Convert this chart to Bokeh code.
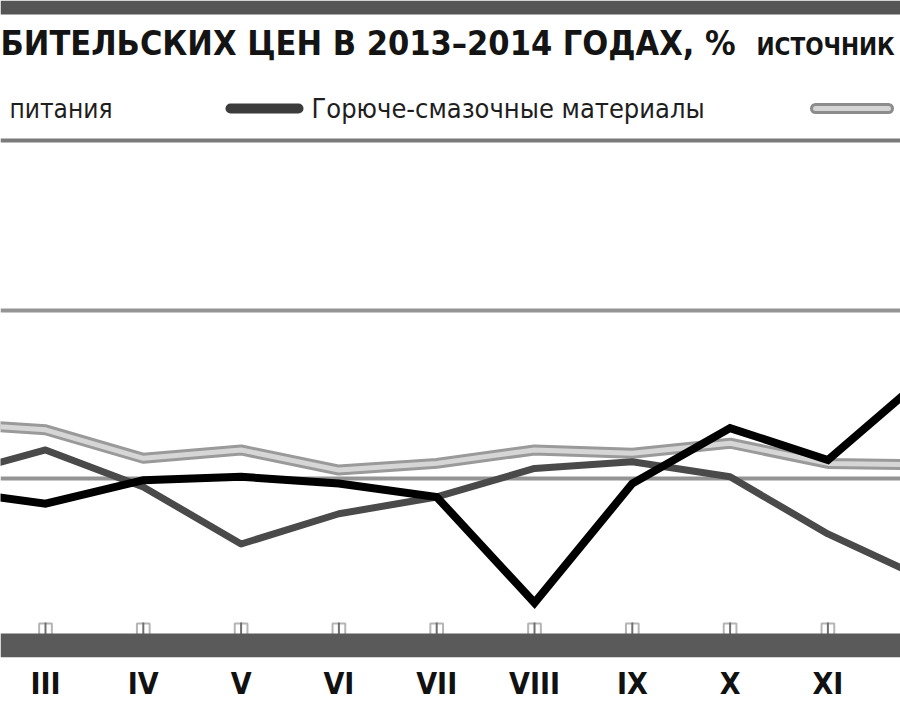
from bokeh.plotting import figure
from bokeh.models import Range1d, FixedTicker, BoxAnnotation
from bokeh.core.properties import value
from bokeh.embed import file_html
from bokeh.resources import INLINE

# ---- data (monthly consumer price index, % to previous month) ----
months = [2, 3, 4, 5, 6, 7, 8, 9, 10, 11, 12]
month_labels = ["II", "III", "IV", "V", "VI", "VII", "VIII", "IX", "X", "XI", "XII"]
food = [99.93, 99.85, 99.99, 100.01, 99.97, 99.89, 99.26, 99.97, 100.30, 100.11, 100.61]
fuel = [100.01, 100.17, 99.95, 99.61, 99.79, 99.89, 100.06, 100.10, 100.01, 99.67, 99.40]
other = [100.33, 100.29, 100.12, 100.17, 100.05, 100.09, 100.17, 100.15, 100.21, 100.09, 100.08]
grid_levels = [100, 101]

title_text = "БИТЕЛЬСКИХ ЦЕН В 2013–2014 ГОДАХ, %"
source_text = "ИСТОЧНИК"
legend_food = "питания"
legend_fuel = "Горюче-смазочные материалы"

# ---- layout helpers (picture pixel -> data) ----
def X(xw):
    return 3 + (xw - 45) / 97.8

def Y(yw):
    return 100 + (478 - yw) / 168

FONT_NAME = "'DejaVu Sans Condensed', 'Liberation Sans', sans-serif"
FONT = value(FONT_NAME)

p = figure(width=900, height=720, output_backend="svg", toolbar_location=None,
           x_range=Range1d(X(0), X(900)), y_range=Range1d(Y(657), Y(0)),
           min_border_left=0, min_border_right=0, min_border_top=0, min_border_bottom=63)
p.outline_line_color = None
p.background_fill_color = "white"
p.border_fill_color = "white"

# axes
p.yaxis.visible = False
p.xgrid.visible = False
p.ygrid.ticker = FixedTicker(ticks=grid_levels)
p.ygrid.grid_line_color = "#949494"
p.ygrid.grid_line_width = 4

xa = p.xaxis[0]
xa.ticker = FixedTicker(ticks=months)
xa.major_label_overrides = {m: lab for m, lab in zip(months, month_labels)}
xa.axis_line_color = None
xa.major_tick_line_color = None
xa.minor_tick_line_color = None
xa.major_label_standoff = 2
xa.major_label_text_font = FONT_NAME
xa.major_label_text_font_style = "bold"
xa.major_label_text_font_size = "30px"
xa.major_label_text_color = "#111111"

# decorative bands
p.add_layout(BoxAnnotation(left=X(0), right=X(900), bottom=Y(14), top=Y(0),
                           fill_color="#555555", fill_alpha=1, line_color=None))
p.add_layout(BoxAnnotation(left=X(0), right=X(900), bottom=Y(142), top=Y(138),
                           fill_color="#7a7a7a", fill_alpha=1, line_color=None))
p.add_layout(BoxAnnotation(left=X(0), right=X(900), bottom=Y(657), top=Y(633),
                           fill_color="#5a5a5a", fill_alpha=1, line_color=None))

# tick boxes above the axis band
p.rect(x=months, y=[Y(630)] * len(months), width=0.13, height=14 / 168,
       fill_color="white", fill_alpha=0.0, line_color="#b5b5b5", line_width=2)
p.segment(x0=months, x1=months, y0=[Y(622)] * len(months), y1=[Y(640)] * len(months),
          line_color="#6f6f6f", line_width=2)

# series
p.line(months, other, line_color="#9a9a9a", line_width=11, line_join="round")
p.line(months, other, line_color="#d6d6d6", line_width=5, line_join="round")
p.line(months, fuel, line_color="#4a4a4a", line_width=7, line_join="round")
p.line(months, food, line_color="#000000", line_width=8, line_join="miter")

# title
p.text(x=[X(0)], y=[Y(42)], text=[title_text], text_font=FONT, text_font_style="bold",
       text_font_size="34px", text_baseline="middle", text_align="left", text_color="#141414")
p.text(x=[X(756)], y=[Y(46)], text=[source_text], text_font=FONT, text_font_style="bold",
       text_font_size="24px", text_baseline="middle", text_align="left", text_color="#141414")

# legend (drawn manually, as in the cropped original)
p.text(x=[X(9)], y=[Y(108)], text=[legend_food], text_font=FONT,
       text_font_size="26px", text_baseline="middle", text_align="left", text_color="#1e1e1e")
p.segment(x0=[X(230)], x1=[X(298)], y0=[Y(108)], y1=[Y(108)],
          line_color="#3c3c3c", line_width=10, line_cap="round")
p.text(x=[X(311)], y=[Y(108)], text=[legend_fuel], text_font=FONT,
       text_font_size="27px", text_baseline="middle", text_align="left", text_color="#1e1e1e")
p.segment(x0=[X(815)], x1=[X(888)], y0=[Y(108)], y1=[Y(108)],
          line_color="#8c8c8c", line_width=11, line_cap="round")
p.segment(x0=[X(815)], x1=[X(888)], y0=[Y(108)], y1=[Y(108)],
          line_color="#d4d4d4", line_width=5, line_cap="round")

open("out.html", "w").write(file_html(p, INLINE))
